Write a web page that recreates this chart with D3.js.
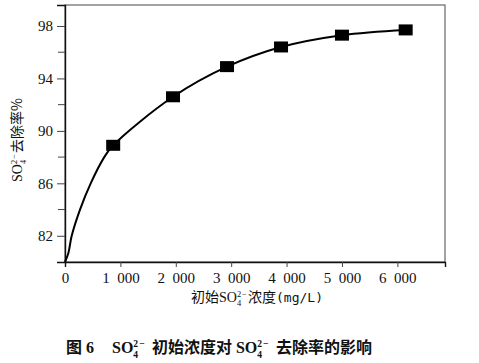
<!DOCTYPE html>
<html>
<head>
<meta charset="utf-8">
<script src="https://cdn.jsdelivr.net/npm/d3@7"></script>
<style>
  body { margin: 0; background: #fff; }
  svg { display: block; }
  text { font-family: "Liberation Serif", "Noto Sans CJK SC", serif; fill: #111; }
</style>
</head>
<body>
<div id="chart"></div>
<script>
// measured points (initial SO4 concentration mg/L, removal %)
var conc = [870, 1950, 2925, 3900, 5000, 6150];
var removal = [88.9, 92.6, 94.9, 96.4, 97.3, 97.7];

// fitted curve
var fitX = [0, 60, 121, 271, 464, 709, 870, 1950, 2925, 3900, 5000, 6150];
var fitY = [80, 80.66, 82, 84, 86, 88, 88.9, 92.6, 94.9, 96.4, 97.3, 97.7];

var xTicks = [0, 1000, 2000, 3000, 4000, 5000, 6000];
var yTicks = [82, 86, 90, 94, 98];
var yMinor = [84, 88, 92, 96];

var w = 479, h = 363;
var mLeft = 65, mRight = 445, mTop = 5, mBottom = 262;

var svg = d3.select('#chart').append('svg')
    .attr('width', w)
    .attr('height', h);

var x = d3.scaleLinear().domain([0, 6860]).range([mLeft, mRight]);
var y = d3.scaleLinear().domain([80, 99.6]).range([mBottom, mTop]);

// frame
svg.append('rect')
    .attr('x', mLeft).attr('y', mTop)
    .attr('width', mRight - mLeft).attr('height', mBottom - mTop)
    .attr('fill', 'none')
    .attr('stroke', '#666')
    .attr('stroke-width', 1.2);

// y axis
var yAxis = svg.append('g')
    .attr('transform', 'translate(' + mLeft + ',0)')
    .call(d3.axisLeft(y).tickValues(yTicks).tickSize(8).tickPadding(4).tickFormat(d3.format('d')));
yAxis.select('.domain').attr('stroke', '#111').attr('stroke-width', 1.4);
yAxis.selectAll('.tick line').attr('stroke', '#444');
yAxis.selectAll('.tick text').attr('font-size', 15).attr('font-family', 'Liberation Serif');

svg.append('g')
    .selectAll('line')
    .data(yMinor)
    .enter()
    .append('line')
    .attr('x1', mLeft - 7).attr('x2', mLeft)
    .attr('y1', function (d) { return y(d); })
    .attr('y2', function (d) { return y(d); })
    .attr('stroke', '#444');

// x axis
var xAxis = svg.append('g')
    .attr('transform', 'translate(0,' + mBottom + ')')
    .call(d3.axisBottom(x).tickValues(xTicks).tickSize(5).tickPadding(5)
        .tickFormat(function (d) { return d === 0 ? '0' : (d / 1000) + '\u2002000'; }));
xAxis.select('.domain').attr('stroke', '#111').attr('stroke-width', 1.4);
xAxis.selectAll('.tick line').attr('stroke', '#444')
    .attr('opacity', function (d) { return d === 0 ? 0 : 1; });
xAxis.selectAll('.tick text').attr('font-size', 15).attr('font-family', 'Liberation Serif');

// fitted curve
var line = d3.line()
    .x(function (d) { return x(d[0]); })
    .y(function (d) { return y(d[1]); })
    .curve(d3.curveCatmullRom.alpha(0.5));

svg.append('path')
    .datum(d3.zip(fitX, fitY))
    .attr('d', line)
    .attr('fill', 'none')
    .attr('stroke', '#000')
    .attr('stroke-width', 2);

// markers
svg.selectAll('rect.pt')
    .data(d3.zip(conc, removal))
    .enter()
    .append('rect')
    .attr('class', 'pt')
    .attr('x', function (d) { return x(d[0]) - 7; })
    .attr('y', function (d) { return y(d[1]) - 5.5; })
    .attr('width', 14)
    .attr('height', 11)
    .attr('fill', '#000');

// SO4 2- with stacked sup/sub; gap = space before "SO"
function so4(t, size, gap) {
    t.append('tspan').attr('dx', gap || 0).attr('font-family', 'Liberation Serif').text('SO');
    t.append('tspan').attr('font-size', size * 0.6).attr('dy', -size * 0.38).text('2');
    t.append('tspan').attr('font-size', size * 0.6).attr('dx', -size * 0.3).attr('dy', size * 0.7).text('4');
    t.append('tspan').attr('font-size', size * 0.6).attr('dx', 1).attr('dy', -size * 0.7).text('\u2212');
    t.append('tspan').attr('dy', size * 0.38).text('\u200a');
}

// y label
var yl = svg.append('text')
    .attr('transform', 'translate(22,140) rotate(-90)')
    .attr('text-anchor', 'middle')
    .attr('font-size', 14);
so4(yl, 14, 0);
yl.append('tspan').attr('font-family', 'Noto Sans CJK SC').text('去除率%');

// x label
var xl = svg.append('text')
    .attr('x', 257).attr('y', 302)
    .attr('text-anchor', 'middle')
    .attr('font-size', 14);
xl.append('tspan').attr('font-family', 'Noto Sans CJK SC').text('初始');
so4(xl, 14, 0);
xl.append('tspan').attr('font-family', 'Noto Sans CJK SC').text('浓度');
xl.append('tspan').attr('font-family', 'DejaVu Sans Mono').attr('font-size', 13).text('(mg/L)');

// caption
var cap = svg.append('text')
    .attr('x', 66).attr('y', 353)
    .attr('font-size', 16)
    .attr('font-weight', 'bold');
cap.append('tspan').attr('font-family', 'Noto Sans CJK SC').text('图');
cap.append('tspan').attr('dx', 4).text('6');
so4(cap, 16, 18);
cap.append('tspan').attr('dx', 6).attr('font-family', 'Noto Sans CJK SC').text('初始浓度对');
so4(cap, 16, 4);
cap.append('tspan').attr('dx', 6).attr('font-family', 'Noto Sans CJK SC').text('去除率的影响');
</script>
</body>
</html>
